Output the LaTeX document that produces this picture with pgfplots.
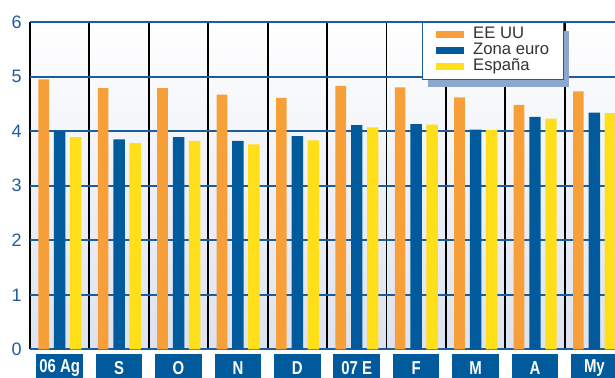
\documentclass[border=0pt]{standalone}
\usepackage{pgfplots}
\pgfplotsset{compat=1.18}
\usepackage{fontspec}
\setmainfont{Liberation Sans}
\newfontfamily\condfont[FakeStretch=0.8]{Liberation Sans}
\usetikzlibrary{shadows}
\definecolor{barorange}{RGB}{247,160,58}
\definecolor{barblue}{RGB}{0,90,156}
\definecolor{baryellow}{RGB}{255,222,26}
\definecolor{gridblue}{RGB}{26,94,160}
\definecolor{labelblue}{RGB}{30,92,158}
\definecolor{legshadow}{RGB}{142,167,207}
\definecolor{bgbottom}{RGB}{221,226,238}
\definecolor{legtext}{RGB}{51,51,51}
\begin{document}
\begin{tikzpicture}
\begin{axis}[
  name=ax,
  at={(0,0)}, anchor=south west,
  scale only axis,
  width=438.75pt, height=245.625pt,
  xmin=-0.5, xmax=9.347,
  ymin=0, ymax=6,
  axis line style={draw=none},
  axis background/.style={shade, top color=white, bottom color=bgbottom},
  major tick length=0pt, minor tick length=0pt,
  xtick={0,...,9},
  xticklabels={06 Ag,S,O,N,D,07 E,F,M,A,My},
  minor xtick={-0.5,0.5,...,8.5},
  minor x grid style={black, line width=1.4pt},
  xminorgrids=true,
  xticklabel style={anchor=north, yshift=-3.4pt, fill=barblue, text=white,
    minimum width=35pt, minimum height=21pt, inner sep=0pt,
    font=\condfont\bfseries\fontsize{14}{15}\selectfont},
  ytick={1,...,6},
  ymajorgrids=true,
  major grid style={draw=gridblue, line width=1.5pt},
  extra y ticks={0},
  extra y tick style={grid style={black, line width=1.5pt}},
  yticklabel style={inner sep=0pt, xshift=-6pt, text=labelblue,
    font=\fontsize{13.5}{14}\selectfont},
  /pgf/number format/assume math mode=true,
  legend cell align=left,
  legend image code/.code={\begin{scope}[#1]\pgfpathrectangle{\pgfpoint{0pt}{-2.6pt}}{\pgfpoint{21pt}{5.2pt}}\pgfusepath{fill}\end{scope}},
  legend style={at={(0.670,1)}, anchor=north west, draw=gridblue, line width=0.8pt,
    fill=white, inner xsep=10pt, inner ysep=3.5pt,
    font=\fontsize{12.5}{13}\selectfont, text=legtext,
    row sep=0.6pt,
    nodes={inner xsep=1pt, inner ysep=0.3pt, text height=8.3pt, text depth=2.5pt},
    /tikz/every odd column/.append style={column sep=6pt},
    drop shadow={shadow xshift=4pt, shadow yshift=-6pt, fill=legshadow, opacity=1}},
]
\addplot[ybar, bar width=8pt, bar shift=-12pt, fill=barorange, draw=none] table {
x y
0 4.95
1 4.79
2 4.79
3 4.67
4 4.61
5 4.83
6 4.80
7 4.62
8 4.48
9 4.73
};
\addlegendentry{EE UU}
\addplot[ybar, bar width=8.6pt, bar shift=0pt, fill=barblue, draw=none] table {
x y
0 4.00
1 3.85
2 3.89
3 3.82
4 3.91
5 4.11
6 4.13
7 4.03
8 4.26
9 4.34
};
\addlegendentry{Zona euro}
\addplot[ybar, bar width=8.6pt, bar shift=12pt, fill=baryellow, draw=none] table {
x y
0 3.89
1 3.78
2 3.82
3 3.76
4 3.83
5 4.07
6 4.12
7 4.02
8 4.23
9 4.33
};
\addlegendentry{España}
\end{axis}
\pgfresetboundingbox
\useasboundingbox ([shift={(-22.5pt,-21.375pt)}]ax.south west) rectangle ([shift={(0pt,16.5pt)}]ax.north east);
\end{tikzpicture}
\end{document}
